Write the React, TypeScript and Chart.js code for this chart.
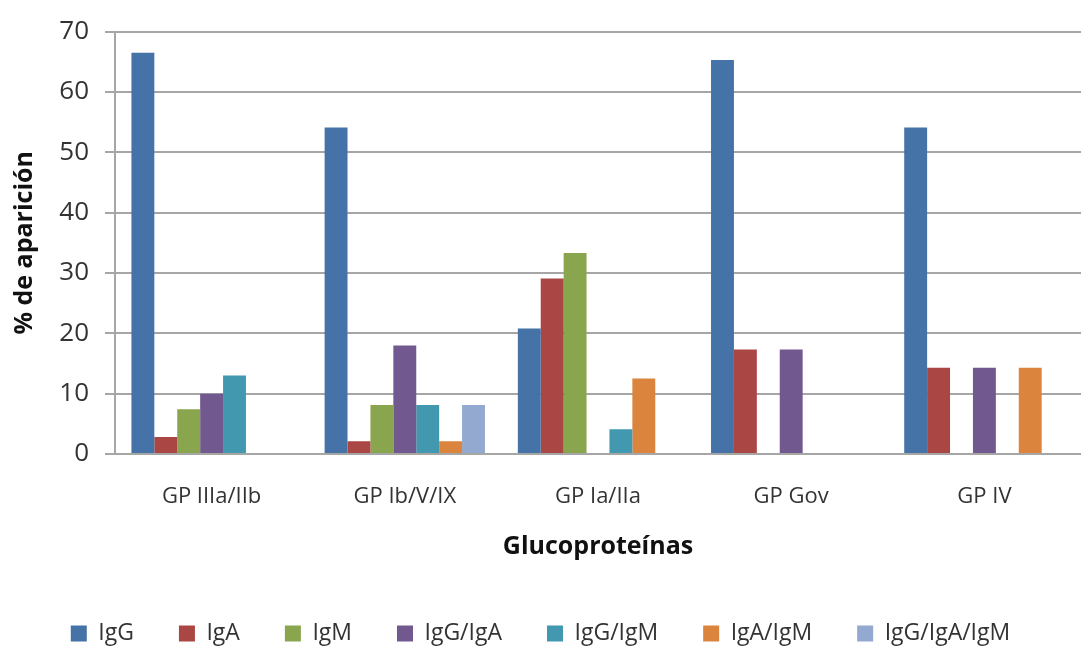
import React, { useEffect, useRef } from "react";
import { Chart, registerables } from "chart.js";

Chart.register(...registerables);

const categories = ["GP IIIa/IIb", "GP Ib/V/IX", "GP Ia/IIa", "GP Gov", "GP IV"];
const seriesNames = ["IgG", "IgA", "IgM", "IgG/IgA", "IgG/IgM", "IgA/IgM", "IgG/IgA/IgM"];
const igG = [66.5, 54.1, 20.8, 65.3, 54.1];
const igA = [2.8, 2.1, 29.1, 17.3, 14.3];
const igM = [7.4, 8.1, 33.3, 0, 0];
const igGigA = [10.0, 18.0, 0, 17.3, 14.3];
const igGigM = [13.0, 8.1, 4.1, 0, 0];
const igAigM = [0, 2.1, 12.5, 0, 14.3];
const igGigAigM = [0, 8.1, 0, 0, 0];
const yTicks = [0, 10, 20, 30, 40, 50, 60, 70];
const colors = ["#4572A7", "#AA4643", "#89A54E", "#71588F", "#4198AF", "#DB843D", "#93A9CF"];

export default function App() {
  const ref = useRef<HTMLCanvasElement>(null);
  useEffect(() => {
    if (!ref.current) return;
    const values = [igG, igA, igM, igGigA, igGigM, igAigM, igGigAigM];
    const font = "'Open Sans', sans-serif";
    const chart = new Chart(ref.current, {
      type: "bar",
      data: {
        labels: categories,
        datasets: seriesNames.map((n, i) => ({
          label: n,
          data: values[i],
          backgroundColor: colors[i],
          borderWidth: 0,
          categoryPercentage: 0.83,
          barPercentage: 1,
        })),
      },
      options: {
        animation: false,
        responsive: false,
        maintainAspectRatio: false,
        layout: { padding: { top: 22, right: 0, left: 0, bottom: 0 } },
        plugins: {
          tooltip: { enabled: false },
          legend: {
            position: "bottom",
            labels: {
              boxWidth: 16,
              boxHeight: 16,
              padding: 45,
              color: "#333",
              font: { family: font, size: 23 },
            },
          },
        },
        scales: {
          x: {
            grid: { display: false },
            border: { display: true, color: "#a6a6a6", width: 2 },
            ticks: { color: "#333", font: { family: font, size: 22 }, padding: 22 },
            title: {
              display: true,
              text: "Glucoproteínas",
              color: "#111",
              font: { family: font, size: 25, weight: "bold" },
              padding: { top: 4, bottom: 15 },
            },
            afterFit: (s: any) => { s.height = 123; },
          },
          y: {
            min: 0,
            max: 70,
            afterBuildTicks: (s: any) => { s.ticks = yTicks.map((v) => ({ value: v })); },
            grid: { color: "#a6a6a6", lineWidth: 2, tickLength: 10, drawTicks: true },
            border: { display: true, color: "#a6a6a6", width: 2 },
            ticks: { color: "#333", font: { family: font, size: 26 }, padding: 16 },
            title: {
              display: true,
              text: "% de aparición",
              color: "#111",
              font: { family: font, size: 25, weight: "bold" },
              padding: { top: 10, bottom: 0 },
            },
            afterFit: (s: any) => { s.width = 115; },
          },
        },
      },
    });
    return () => chart.destroy();
  }, []);
  return (
    <div style={{ position: "absolute", left: 0, top: 0, width: 1081, height: 648, overflow: "hidden", background: "#fff" }}>
      <canvas ref={ref} width={1081} height={655} style={{ width: 1081, height: 655 }} />
    </div>
  );
}
